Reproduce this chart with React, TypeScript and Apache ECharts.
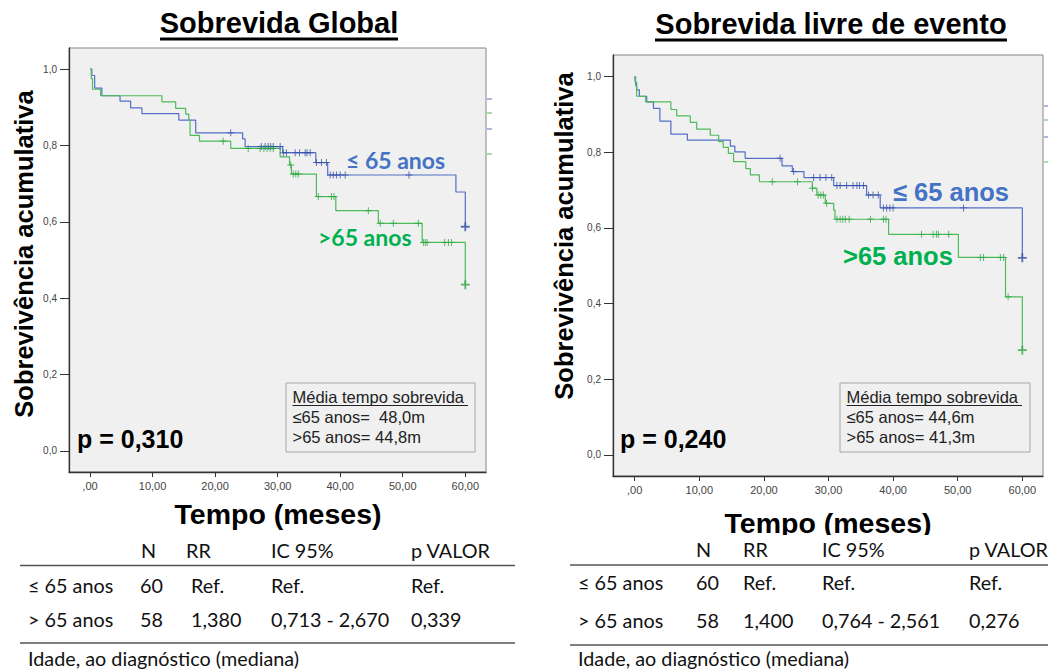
import React, { useEffect, useRef } from "react";
import * as echarts from "echarts";

// ---------- data ----------
const xTickValues = [0, 10, 20, 30, 40, 50, 60];
const yTickValues = [0, 0.2, 0.4, 0.6, 0.8, 1.0];

// Sobrevida Global – step points [tempo, sobrevivência]
const ogYoung: [number, number][] = [
  [0, 1], [0.3, 0.983], [0.75, 0.95], [1.9, 0.93], [4.8, 0.916], [6.5, 0.898],
  [8.3, 0.883], [14.2, 0.866], [16.9, 0.833], [24.4, 0.817], [24.8, 0.797],
  [30.8, 0.781], [36.1, 0.755], [38.0, 0.7225], [58.5, 0.678], [60.0, 0.587],
];
const ogYoungCensor = [22.5, 27.4, 28.0, 28.5, 28.9, 29.3, 30.4, 30.9, 31.4, 32.8, 33.5, 34.4,
  34.7, 35.2, 36.2, 37.0, 37.8, 38.4, 38.9, 39.4, 40.0, 40.8, 51.0];
const ogOld: [number, number][] = [
  [0, 1], [0.2, 0.975], [0.4, 0.947], [1.7, 0.93], [11.5, 0.914], [13.7, 0.897],
  [15.3, 0.882], [15.8, 0.866], [16.0, 0.826], [17.5, 0.811], [22.5, 0.792],
  [30.4, 0.77], [31.9, 0.749], [32.2, 0.725], [36.2, 0.666], [39.3, 0.629],
  [46.1, 0.596], [53.1, 0.546], [60.0, 0.4355],
];
const ogOldCensor = [21.3, 25.3, 27.2, 27.8, 28.3, 28.8, 29.3, 32.1, 32.5, 32.9, 33.3, 36.5,
  38.6, 39.0, 44.5, 46.4, 48.5, 52.5, 53.3, 53.6, 53.9, 56.7, 57.3, 57.8];

// Sobrevida livre de evento
const efsYoung: [number, number][] = [
  [0, 1], [0.1, 0.984], [0.3, 0.965], [0.72, 0.948], [1.86, 0.933], [2.9, 0.916],
  [3.9, 0.882], [5.6, 0.848], [8.15, 0.832], [14.8, 0.816], [15.5, 0.801],
  [17.1, 0.784], [22.8, 0.764], [24.4, 0.749], [26.2, 0.733], [30.8, 0.712],
  [35.9, 0.687], [38.0, 0.653], [60.0, 0.521],
];
const efsYoungCensor = [22.5, 24.6, 27.7, 28.7, 29.6, 30.5, 31.3, 31.8, 32.8, 33.8, 34.4, 34.8,
  35.4, 36.2, 36.9, 37.7, 38.5, 39.0, 39.5, 40.0, 50.9];
const efsOld: [number, number][] = [
  [0, 1], [0.15, 0.975], [0.3, 0.948], [1.7, 0.933], [5.6, 0.913], [6.5, 0.896],
  [8.6, 0.879], [9.6, 0.861], [11.7, 0.845], [13.0, 0.828], [13.7, 0.813],
  [14.5, 0.797], [15.3, 0.775], [17.2, 0.757], [17.9, 0.74], [19.3, 0.722],
  [27.5, 0.705], [28.2, 0.687], [29.5, 0.665], [30.8, 0.647], [31.0, 0.623],
  [39.3, 0.583], [50.1, 0.522], [57.4, 0.418], [60.0, 0.277],
];
const efsOldCensor = [21.3, 25.2, 27.5, 28.4, 28.8, 29.2, 29.7, 31.3, 31.8, 32.2, 32.6, 33.2,
  36.5, 38.5, 38.9, 44.4, 46.2, 46.7, 47.0, 48.6, 53.5, 54.0, 56.6, 57.1, 57.8];

const titles = ["Sobrevida Global", "Sobrevida livre de evento"];
const pValues = ["p = 0,310", "p = 0,240"];
const meanTitle = "Média tempo sobrevida";
const meanLines = [
  ["≤65 anos=  48,0m", ">65 anos= 44,8m"],
  ["≤65 anos= 44,6m", ">65 anos= 41,3m"],
];
const groupLabels = ["≤ 65 anos", ">65 anos"];
const tableHeader = ["N", "RR", "IC 95%", "p VALOR"];
const tableRowNames = ["≤ 65 anos", "> 65 anos"];
const tableRows = [
  [["60", "Ref.", "Ref.", "Ref."], ["58", "1,380", "0,713 - 2,670", "0,339"]],
  [["60", "Ref.", "Ref.", "Ref."], ["58", "1,400", "0,764 - 2,561", "0,276"]],
];
const tableNote = "Idade, ao diagnóstico (mediana)";

// ---------- styles ----------
const BLUE_LINE = "#536fc6";
const GREEN_LINE = "#4cbb58";
const BLUE_MARK = "#3550a8";
const GREEN_MARK = "#2ea845";
const BLUE_TXT = "#4472C4";
const GREEN_TXT = "#00B050";
const censorSymbol = "path://M4.3,0H5.7V4.3H10V5.7H5.7V10H4.3V5.7H0V4.3H4.3Z";
const finalSymbol = "path://M4,0H6V4H10V6H6V10H4V6H0V4H4Z";

function survivalAt(steps: [number, number][], t: number): number {
  let s = steps[0][1];
  for (const [tt, v] of steps) {
    if (tt <= t) s = v;
    else break;
  }
  return s;
}

function kmSeries(idx: number, steps: [number, number][], censor: number[], line: string, mark: string) {
  const last = steps[steps.length - 1];
  return [
    {
      type: "line", xAxisIndex: idx, yAxisIndex: idx, step: "end", data: steps,
      showSymbol: false, silent: true, lineStyle: { color: line, width: 1.2 }, z: 3,
    },
    {
      type: "scatter", xAxisIndex: idx, yAxisIndex: idx, silent: true,
      data: censor.map((t) => [t, survivalAt(steps, t)]),
      symbol: censorSymbol, symbolSize: 7, itemStyle: { color: mark }, z: 4,
    },
    {
      type: "scatter", xAxisIndex: idx, yAxisIndex: idx, silent: true,
      data: [last], symbol: finalSymbol, symbolSize: 9, itemStyle: { color: mark }, z: 5,
    },
  ];
}

const AX = '"Liberation Sans", Arial, sans-serif';
const TB = 'Lato, "Open Sans", sans-serif';

function axes(idx: number, xmin: number, xmax: number, ymin: number, ymax: number) {
  const x = {
    type: "value", gridIndex: idx, min: xmin, max: xmax,
    axisLine: { show: true, onZero: false, lineStyle: { color: "#333", width: 1.3 } },
    axisTick: { show: true, customValues: xTickValues, length: 5, lineStyle: { color: "#333" } },
    axisLabel: {
      customValues: xTickValues, margin: 8, fontSize: 11, color: "#444", fontFamily: AX,
      formatter: (v: number) => (v === 0 ? ",00" : v.toFixed(2).replace(".", ",")),
    },
    splitLine: { show: false },
  };
  const y = {
    type: "value", gridIndex: idx, min: ymin, max: ymax,
    axisLine: { show: true, onZero: false, lineStyle: { color: "#333", width: 1.3 } },
    axisTick: { show: true, customValues: yTickValues, length: 9, lineStyle: { color: "#333" } },
    axisLabel: {
      customValues: yTickValues, margin: 12, fontSize: 10, color: "#444", fontFamily: AX,
      formatter: (v: number) => v.toFixed(1).replace(".", ","),
    },
    splitLine: { show: false },
  };
  return { x, y };
}

function txt(text: string, x: number, y: number, font: string, fill: string, align = "left", extra: any = {}) {
  return {
    type: "text", x, y, z: 100, ...extra,
    style: { text, x: 0, y: 0, font, fill, align, verticalAlign: "middle" },
  };
}
function hline(x1: number, x2: number, y: number, color: string, w: number) {
  return { type: "line", z: 100, shape: { x1, y1: y, x2, y2: y }, style: { stroke: color, lineWidth: w } };
}

export default function App() {
  const ref = useRef<HTMLDivElement>(null);
  useEffect(() => {
    if (!ref.current) return;
    const chart = echarts.init(ref.current, undefined, { renderer: "svg" });
    const a0 = axes(0, -3.357, 63.31, -0.055, 1.055);
    const a1 = axes(1, -3.36, 63.2, -0.0555, 1.057);

    const graphics: any[] = [];
    // titles
    graphics.push(txt(titles[0], 279, 23, `bold 29px ${AX}`, "#000", "center"));
    graphics.push({ type: "rect", z: 100, shape: { x: 160, y: 37.5, width: 238, height: 3 }, style: { fill: "#000" } });
    graphics.push(txt(titles[1], 831, 24, `bold 29px ${AX}`, "#000", "center"));
    graphics.push({ type: "rect", z: 100, shape: { x: 655, y: 38.5, width: 352, height: 3 }, style: { fill: "#000" } });
    // y axis names
    graphics.push(txt("Sobrevivência acumulativa", 24, 254, `bold 25.5px ${AX}`, "#000", "center", { rotation: Math.PI / 2 }));
    graphics.push(txt("Sobrevivência acumulativa", 564, 236, `bold 25.5px ${AX}`, "#000", "center", { rotation: Math.PI / 2 }));
    // x axis names
    graphics.push(txt("Tempo (meses)", 278, 514, `bold 28.5px ${AX}`, "#000", "center"));
    graphics.push(txt("Tempo (meses)", 828, 522.5, `bold 28.5px ${AX}`, "#000", "center"));
    graphics.push({ type: "rect", z: 101, shape: { x: 700, y: 535, width: 260, height: 4 }, style: { fill: "#fff" } });
    // p values
    graphics.push(txt(pValues[0], 77, 439, `bold 25px ${AX}`, "#000"));
    graphics.push(txt(pValues[1], 620, 439, `bold 25px ${AX}`, "#000"));
    // group labels
    graphics.push(txt(groupLabels[0], 346, 160, `bold 23px ${TB}`, BLUE_TXT));
    graphics.push(txt(groupLabels[1], 318, 237, `bold 23px ${TB}`, GREEN_TXT));
    graphics.push(txt(groupLabels[0], 893, 192, `bold 25.5px ${AX}`, BLUE_TXT));
    graphics.push(txt(groupLabels[1], 843, 256, `bold 25.5px ${AX}`, GREEN_TXT));
    // mean boxes
    const boxes = [{ x: 286, w: 189 }, { x: 840, w: 190 }];
    boxes.forEach((b, i) => {
      graphics.push({ type: "rect", z: 99, shape: { x: b.x, y: 383, width: b.w, height: 69 }, style: { fill: "#f0f0f0", stroke: "#a6a6a6", lineWidth: 1 } });
      graphics.push(txt(meanTitle, b.x + 6.5, 397, `16.5px ${AX}`, "#222"));
      graphics.push(hline(b.x + 6.5, b.x + 182, 405.5, "#222", 1));
      graphics.push(txt(meanLines[i][0], b.x + 6.5, 417, `16.5px ${AX}`, "#222"));
      graphics.push(txt(meanLines[i][1], b.x + 6.5, 437, `16.5px ${AX}`, "#222"));
    });
    // cropped legend stubs on the right edge of each plot
    const stubs = [
      { x: 486, ys: [99, 113, 129, 154] },
      { x: 1043, ys: [106, 120, 137, 162] },
    ];
    stubs.forEach((s) => {
      s.ys.forEach((y, k) => graphics.push(hline(s.x + 1, s.x + 6, y, k % 2 === 0 ? BLUE_LINE : GREEN_LINE, 1)));
    });
    // tables
    const tables = [
      { x0: 20, x1: 515, nameX: 28, hx: [141, 186, 271, 411], rx: [140, 191, 271, 411], hy: 550, l1: 565.5, r1: 585, r2: 619, l2: 643, ny: 658 },
      { x0: 570, x1: 1048, nameX: 578, hx: [696, 743, 822, 969], rx: [696, 743, 822, 969], hy: 549, l1: 565, r1: 582, r2: 620, l2: 645, ny: 658 },
    ];
    tables.forEach((t, i) => {
      const f = `19.8px ${TB}`;
      tableHeader.forEach((h, k) => graphics.push(txt(h, t.hx[k], t.hy, f, "#111")));
      graphics.push(hline(t.x0, t.x1, t.l1, "#555", 1.5));
      [t.r1, t.r2].forEach((ry, r) => {
        graphics.push(txt(tableRowNames[r], t.nameX, ry, f, "#111"));
        tableRows[i][r].forEach((c, k) => graphics.push(txt(c, t.rx[k], ry, f, "#111")));
      });
      graphics.push(hline(t.x0, t.x1, t.l2, "#555", 1.5));
      graphics.push(txt(tableNote, t.nameX, t.ny, f, "#111"));
    });

    chart.setOption({
      animation: false,
      backgroundColor: "#ffffff",
      grid: [
        { left: 69, top: 48, width: 417, height: 424, show: true, backgroundColor: "#f0f0f0", borderColor: "#858585", borderWidth: 1 },
        { left: 613, top: 55, width: 430, height: 421, show: true, backgroundColor: "#f0f0f0", borderColor: "#858585", borderWidth: 1 },
      ],
      xAxis: [a0.x, a1.x],
      yAxis: [a0.y, a1.y],
      series: [
        ...kmSeries(0, ogYoung, ogYoungCensor, BLUE_LINE, BLUE_MARK),
        ...kmSeries(0, ogOld, ogOldCensor, GREEN_LINE, GREEN_MARK),
        ...kmSeries(1, efsYoung, efsYoungCensor, BLUE_LINE, BLUE_MARK),
        ...kmSeries(1, efsOld, efsOldCensor, GREEN_LINE, GREEN_MARK),
      ],
      graphic: graphics,
    });
    return () => chart.dispose();
  }, []);
  return <div ref={ref} style={{ position: "absolute", left: 0, top: 0, width: 1048, height: 670 }} />;
}
